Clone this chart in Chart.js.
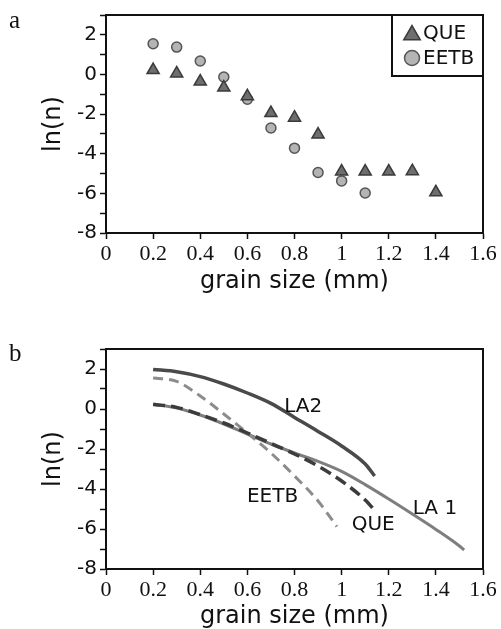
<!DOCTYPE html>
<html>
<head>
<meta charset="utf-8">
<script src="https://cdn.jsdelivr.net/npm/chart.js@4"></script>
<style>
html,body{margin:0;padding:0;background:#fff;overflow:hidden;width:501px;height:629px;}
.panel{position:absolute;font-family:"Liberation Serif",serif;font-size:25px;color:#111;line-height:1;}
#wrapA{position:absolute;left:0;top:0;width:501px;height:314px;}
#wrapB{position:absolute;left:0;top:314px;width:501px;height:330px;}
</style>
</head>
<body>
<div id="wrapA"><canvas id="chartA" width="501" height="314"></canvas></div>
<div id="wrapB"><canvas id="chartB" width="501" height="330"></canvas></div>
<div class="panel" style="left:9px;top:7px">a</div>
<div class="panel" style="left:9px;top:340px">b</div>
<script>
// panel a: measured points
var sizeQUE = [0.2,0.3,0.4,0.5,0.6,0.7,0.8,0.9,1.0,1.1,1.2,1.3,1.4];
var lnQUE = [0.22,0.05,-0.36,-0.66,-1.1,-1.95,-2.18,-3.03,-4.9,-4.9,-4.9,-4.88,-5.95];
var sizeEETB = [0.2,0.3,0.4,0.5,0.6,0.7,0.8,0.9,1.0,1.1];
var lnEETB = [1.55,1.38,0.68,-0.13,-1.25,-2.7,-3.72,-4.95,-5.37,-5.98];

// panel b: fitted curves
var fitSizeLA2 = [0.2,0.3,0.4,0.5,0.6,0.7,0.8,0.9,1.0,1.1,1.14];
var fitLA2 = [1.98,1.86,1.62,1.25,0.8,0.28,-0.42,-1.12,-1.85,-2.75,-3.35];
var fitSizeLA1 = [0.2,0.3,0.4,0.5,0.6,0.7,0.8,0.9,1.0,1.1,1.2,1.3,1.4,1.5,1.52];
var fitLA1 = [0.22,0.05,-0.3,-0.75,-1.25,-1.75,-2.2,-2.62,-3.12,-3.78,-4.5,-5.25,-6.02,-6.85,-7.05];
var fitSizeQUE = [0.2,0.3,0.4,0.5,0.6,0.7,0.8,0.9,1.0,1.1,1.145];
var fitQUE = [0.24,0.08,-0.28,-0.7,-1.2,-1.72,-2.25,-2.85,-3.6,-4.55,-5.13];
var fitSizeEETB = [0.2,0.3,0.4,0.5,0.6,0.7,0.8,0.9,0.98];
var fitEETB = [1.55,1.38,0.65,-0.25,-1.2,-2.2,-3.35,-4.6,-5.88];

var curveNames = ['LA2','EETB','QUE','LA 1'];
var curveNameAt = [[0.837,0.1],[0.707,-4.38],[1.134,-5.77],[1.396,-4.97]];

var xTickLabels = ['0','0.2','0.4','0.6','0.8','1','1.2','1.4','1.6'];
var yTickLabels = ['-8','','-6','','-4','','-2','','0','','2',''];

var ink = '#111';
var sans = 'DejaVu Sans';

function pts(xs, ys){ return xs.map(function(x,i){ return {x:x, y:ys[i]}; }); }

var framePlugin = {
  id:'frame',
  afterDraw: function(chart){
    var a = chart.chartArea, ctx = chart.ctx;
    ctx.save();
    ctx.strokeStyle = '#111'; ctx.lineWidth = 2;
    ctx.strokeRect(a.left, a.top, a.right-a.left, a.bottom-a.top);
    ctx.restore();
  }
};

var boxLegend = {
  id:'boxLegend',
  afterDraw: function(chart){
    var a = chart.chartArea, ctx = chart.ctx;
    var w = 91, h = 61, x0 = a.right - w, y0 = a.top;
    ctx.save();
    ctx.fillStyle = '#fff'; ctx.fillRect(x0, y0, w, h);
    ctx.strokeStyle = '#111'; ctx.lineWidth = 2; ctx.strokeRect(x0, y0, w, h);
    chart.data.datasets.forEach(function(ds, i){
      var cy = y0 + 18 + i*25;
      ctx.fillStyle = ds.backgroundColor; ctx.strokeStyle = ds.borderColor; ctx.lineWidth = ds.borderWidth;
      var r = ds.pointStyle === 'triangle' ? 9.5 : 7.5;
      var oy = ds.pointStyle === 'triangle' ? 2 : 0;
      Chart.helpers.drawPoint(ctx, {pointStyle: ds.pointStyle, radius: r, borderWidth: ds.borderWidth, rotation: 0}, x0 + 20, cy + oy);
      ctx.fillStyle = ink; ctx.font = '20px "' + sans + '"';
      ctx.textAlign = 'left'; ctx.textBaseline = 'middle';
      ctx.fillText(ds.label, x0 + 31, cy + 1);
    });
    ctx.restore();
  }
};

var curveLabels = {
  id:'curveLabels',
  afterDatasetsDraw: function(chart){
    var ctx = chart.ctx, sx = chart.scales.x, sy = chart.scales.y;
    ctx.save();
    ctx.fillStyle = ink; ctx.font = '20px "' + sans + '"';
    ctx.textAlign = 'center'; ctx.textBaseline = 'middle';
    curveNames.forEach(function(n, i){
      ctx.fillText(n, sx.getPixelForValue(curveNameAt[i][0]), sy.getPixelForValue(curveNameAt[i][1]));
    });
    ctx.restore();
  }
};

function makeScales(xHeight, titlePad){
  return {
    x: {
      type:'linear', min:0, max:1.6,
      ticks:{stepSize:0.2, autoSkip:false, maxRotation:0, padding:2, color:ink,
        font:{family:'Liberation Serif', size:22},
        callback:function(v,i){ return xTickLabels[i]; }},
      grid:{drawOnChartArea:false, tickLength:6, tickColor:'#111', tickWidth:1.5},
      border:{display:true, color:'#111', width:2},
      title:{display:true, text:'grain size (mm)', color:ink, font:{family:sans, size:24}, padding:{top:0, bottom:titlePad}},
      afterFit:function(s){ s.height = xHeight; }
    },
    y: {
      min:-8, max:3,
      ticks:{stepSize:1, autoSkip:false, padding:3, color:ink,
        font:{family:sans, size:20},
        callback:function(v,i){ return yTickLabels[i]; }},
      grid:{drawOnChartArea:false, tickLength:6, tickColor:'#111', tickWidth:1.5},
      border:{display:true, color:'#111', width:2},
      title:{display:true, text:'ln(n)', color:ink, font:{family:sans, size:24}, padding:{top:39, bottom:0}},
      afterFit:function(s){ s.width = 106; }
    }
  };
}

new Chart(document.getElementById('chartA'), {
  type:'scatter',
  data:{
    datasets:[
      {label:'QUE', data:pts(sizeQUE, lnQUE), pointStyle:'triangle', pointRadius:7,
       backgroundColor:'#6e6e6e', borderColor:'#3a3a3a', borderWidth:1.5},
      {label:'EETB', data:pts(sizeEETB, lnEETB), pointStyle:'circle', pointRadius:5,
       backgroundColor:'#b4b4b4', borderColor:'#555', borderWidth:1.5}
    ]
  },
  options:{
    responsive:false, animation:false,
    layout:{padding:{top:13, right:18, left:0, bottom:0}},
    plugins:{legend:{display:false}, tooltip:{enabled:false}},
    scales:makeScales(81, 17.6)
  },
  plugins:[framePlugin, boxLegend]
});

new Chart(document.getElementById('chartB'), {
  type:'line',
  data:{
    datasets:[
      {label:'QUE', data:pts(fitSizeQUE, fitQUE), borderColor:'#3c3c3c', borderWidth:3.5, borderDash:[12,6]},
      {label:'EETB', data:pts(fitSizeEETB, fitEETB), borderColor:'#8c8c8c', borderWidth:3, borderDash:[10,6]},
      {label:'LA2', data:pts(fitSizeLA2, fitLA2), borderColor:'#4a4a4a', borderWidth:3.5},
      {label:'LA 1', data:pts(fitSizeLA1, fitLA1), borderColor:'#7e7e7e', borderWidth:3}
    ]
  },
  options:{
    responsive:false, animation:false,
    elements:{point:{radius:0}, line:{cubicInterpolationMode:'monotone', fill:false}},
    layout:{padding:{top:35, right:18, left:0, bottom:0}},
    plugins:{legend:{display:false}, tooltip:{enabled:false}},
    scales:makeScales(75, 12.6)
  },
  plugins:[framePlugin, curveLabels]
});
</script>
</body>
</html>
